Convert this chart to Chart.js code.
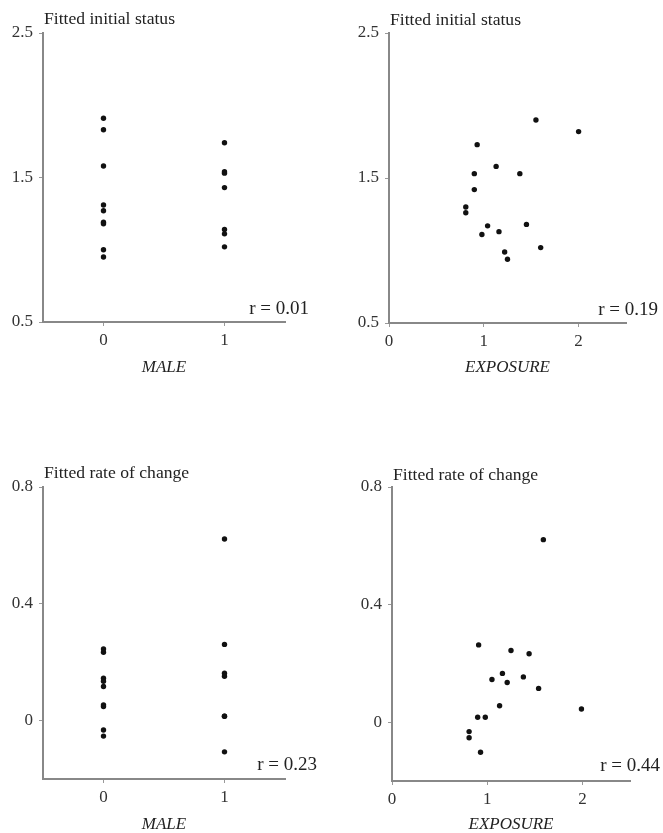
<!DOCTYPE html>
<html>
<head>
<meta charset="utf-8">
<script src="https://cdn.jsdelivr.net/npm/chart.js@4.4.1/dist/chart.umd.min.js"></script>
<style>
  body { margin: 0; background: #fff; width: 663px; height: 833px; position: relative; overflow: hidden; }
  canvas { position: absolute; }
</style>
</head>
<body>
<canvas id="p1" width="330" height="376" style="left:0;top:0"></canvas>
<canvas id="p2" width="333" height="376" style="left:330px;top:0"></canvas>
<canvas id="p3" width="330" height="413" style="left:0;top:420px"></canvas>
<canvas id="p4" width="333" height="413" style="left:330px;top:420px"></canvas>
<script>
// tick labels
const maleTicks = [0, 1];
const exposureTicks = [0, 1, 2];
const initTicks = [0.5, 1.5, 2.5];
const rateTicks = [0, 0.4, 0.8];

// fitted initial status by MALE
const initMale0 = [1.91, 1.83, 1.58, 1.31, 1.27, 1.19, 1.18, 1.00, 0.95];
const initMale1 = [1.74, 1.54, 1.53, 1.43, 1.14, 1.11, 1.02];

// fitted initial status by EXPOSURE
const exposureA = [1.55, 2.00, 0.93, 1.13, 0.90, 1.38, 0.90, 0.81, 0.81, 1.04, 1.45, 1.16, 0.98, 1.60, 1.22, 1.25];
const initExp   = [1.90, 1.82, 1.73, 1.58, 1.53, 1.53, 1.42, 1.30, 1.26, 1.17, 1.18, 1.13, 1.11, 1.02, 0.99, 0.94];

// fitted rate of change by MALE
const rateMale0 = [0.245, 0.234, 0.145, 0.135, 0.117, 0.054, 0.048, -0.032, -0.053];
const rateMale1 = [0.622, 0.261, 0.162, 0.152, 0.015, 0.015, -0.107];

// fitted rate of change by EXPOSURE
const exposureB = [1.59, 0.91, 1.25, 1.44, 1.16, 1.05, 1.38, 1.21, 1.54, 1.13, 1.99, 0.90, 0.98, 0.81, 0.81, 0.93];
const rateExp   = [0.621, 0.263, 0.244, 0.233, 0.166, 0.145, 0.154, 0.135, 0.115, 0.056, 0.045, 0.017, 0.017, -0.032, -0.053, -0.102];

const r = ['r = 0.01', 'r = 0.19', 'r = 0.23', 'r = 0.44'];

const serif = '"Liberation Serif", "DejaVu Serif", serif';

const panelText = {
  id: 'panelText',
  afterDraw(chart, args, o) {
    const { ctx, chartArea: a } = chart;
    ctx.save();
    ctx.fillStyle = '#222';
    ctx.textBaseline = 'alphabetic';
    ctx.textAlign = 'left';
    ctx.font = '17.6px ' + serif;
    ctx.fillText(o.title, a.left + 1, a.top - o.ty);
    ctx.textAlign = 'right';
    ctx.font = '19px ' + serif;
    ctx.fillText(o.r, a.right + o.rx, a.bottom - o.ry);
    ctx.restore();
  }
};

function pts(xs, ys) {
  return ys.map((y, i) => ({ x: Array.isArray(xs) ? xs[i] : xs, y: y }));
}

function panel(id, box, data, xs, ys, xTitle, text) {
  const cv = document.getElementById(id);
  const W = cv.width, H = cv.height;
  const axis = (ticks, pad, extra) => Object.assign({
    type: 'linear',
    afterBuildTicks: s => { s.ticks = ticks.map(v => ({ value: v })); },
    grid: { display: true, drawOnChartArea: false, drawTicks: true, tickLength: 4, color: '#999', lineWidth: 1 },
    border: { display: true, color: '#888', width: 2 },
    ticks: { color: '#333', padding: pad, font: { family: serif, size: 17 }, callback: v => String(v) }
  }, extra);

  new Chart(cv, {
    type: 'scatter',
    data: {
      datasets: [{
        data: data,
        backgroundColor: '#111',
        borderColor: '#111',
        pointRadius: 2.7,
        borderWidth: 0
      }]
    },
    options: {
      responsive: false,
      animation: false,
      layout: { padding: { left: 0, top: box.t, right: W - box.r, bottom: 0 } },
      scales: {
        x: axis(xs.ticks, 4, {
          min: xs.min, max: xs.max,
          afterFit: s => { s.height = H - box.b; },
          title: { display: true, text: xTitle, color: '#222', padding: 0,
                   font: { family: serif, size: 17, style: 'italic', lineHeight: 1 } }
        }),
        y: axis(ys.ticks, 6, {
          min: ys.min, max: ys.max,
          afterFit: s => { s.width = box.l; }
        })
      },
      plugins: {
        legend: { display: false },
        tooltip: { enabled: false },
        panelText: text
      }
    },
    plugins: [panelText]
  });
}

const maleX = { min: -0.5, max: 1.5, ticks: maleTicks };
const expX = { min: 0, max: 2.5, ticks: exposureTicks };
const initY = { min: 0.5, max: 2.5, ticks: initTicks };
const rateY = { min: -0.2, max: 0.8, ticks: rateTicks };

panel('p1', { l: 43, t: 33, r: 285, b: 322 },
  pts(0, initMale0).concat(pts(1, initMale1)), maleX, initY, 'MALE',
  { title: 'Fitted initial status', r: r[0], ty: 9, rx: 24, ry: 8 });

panel('p2', { l: 59, t: 33, r: 296, b: 323 },
  pts(exposureA, initExp), expX, initY, 'EXPOSURE',
  { title: 'Fitted initial status', r: r[1], ty: 8, rx: 32, ry: 8 });

panel('p3', { l: 43, t: 67, r: 285, b: 359 },
  pts(0, rateMale0).concat(pts(1, rateMale1)), maleX, rateY, 'MALE',
  { title: 'Fitted rate of change', r: r[2], ty: 9, rx: 32, ry: 9 });

panel('p4', { l: 62, t: 67, r: 300, b: 361 },
  pts(exposureB, rateExp), expX, rateY, 'EXPOSURE',
  { title: 'Fitted rate of change', r: r[3], ty: 7, rx: 30, ry: 10 });
</script>
</body>
</html>
